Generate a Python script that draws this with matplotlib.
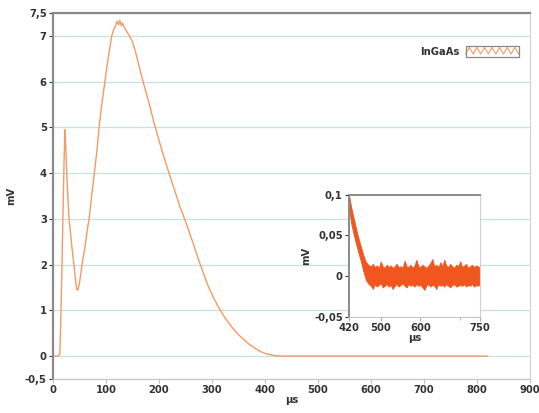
import numpy as np
import matplotlib
matplotlib.use("Agg")
import matplotlib.pyplot as plt
from matplotlib.legend_handler import HandlerBase
from matplotlib.lines import Line2D
from matplotlib.patches import Rectangle

# main trace (µs, mV)
t_main = [0, 10, 13, 15, 17, 19, 21, 22.5, 24, 26, 28, 30, 33, 36, 40, 43, 45, 47, 50,
          53, 56, 60, 64, 68, 73, 78, 83, 87, 92, 98, 102, 106, 111, 115, 118, 121,
          124, 126, 129, 131, 134, 137, 140, 144, 149, 155, 160, 165, 170, 176, 182,
          188, 193, 200, 206, 212, 219, 226, 233, 240, 250, 258, 265, 272, 278, 286,
          294, 302, 310, 321, 330, 340, 350, 360, 370, 380, 390, 400, 410, 420, 430,
          440, 460, 500, 550, 600, 650, 700, 750, 800, 820]
v_main = [0, 0, 0.05, 0.9, 2.0, 3.2, 4.3, 4.95, 4.6, 4.0, 3.5, 3.05, 2.7, 2.35, 1.95,
          1.6, 1.45, 1.45, 1.6, 1.85, 2.1, 2.35, 2.7, 3.0, 3.5, 4.0, 4.5, 5.0, 5.5, 6.0,
          6.35, 6.65, 7.0, 7.15, 7.22, 7.32, 7.24, 7.34, 7.22, 7.28, 7.2, 7.14, 7.08,
          7.0, 6.9, 6.68, 6.45, 6.22, 6.0, 5.75, 5.5, 5.22, 5.0, 4.72, 4.48, 4.25, 4.0,
          3.75, 3.5, 3.25, 2.95, 2.68, 2.45, 2.2, 2.0, 1.74, 1.5, 1.3, 1.12, 0.9, 0.75,
          0.6, 0.47, 0.36, 0.26, 0.18, 0.11, 0.06, 0.03, 0.01, 0.0, 0.0, 0.0, 0.0, 0.0,
          0.0, 0.0, 0.0, 0.0, 0.0, 0.0]

# inset: envelope of the noisy tail (µs, mV)
t_ins = [420, 425, 430, 437, 443, 450, 456, 462, 468, 475, 480, 485, 490, 495, 500,
         505, 510, 515, 520, 525, 530, 535, 540, 545, 550, 555, 560, 565, 570, 575,
         580, 585, 590, 595, 600, 605, 610, 615, 620, 625, 630, 635, 640, 645, 650,
         655, 660, 665, 670, 675, 680, 685, 690, 695, 700, 705, 710, 715, 720, 725,
         730, 735, 740, 745, 750]
v_hi = [0.1, 0.086, 0.075, 0.06, 0.048, 0.036, 0.026, 0.018, 0.014, 0.012, 0.015,
        0.011, 0.013, 0.01, 0.018, 0.012, 0.01, 0.014, 0.011, 0.013, 0.01, 0.012,
        0.015, 0.011, 0.012, 0.01, 0.019, 0.012, 0.011, 0.014, 0.01, 0.013, 0.02,
        0.012, 0.011, 0.014, 0.012, 0.01, 0.013, 0.016, 0.021, 0.012, 0.014, 0.011,
        0.017, 0.012, 0.02, 0.013, 0.011, 0.015, 0.012, 0.01, 0.014, 0.012, 0.018,
        0.011, 0.013, 0.015, 0.01, 0.012, 0.014, 0.011, 0.013, 0.012, 0.01]
v_lo = [0.085, 0.066, 0.055, 0.041, 0.03, 0.018, 0.006, -0.004, -0.009, -0.012,
        -0.016, -0.01, -0.013, -0.011, -0.009, -0.014, -0.012, -0.01, -0.013, -0.011,
        -0.016, -0.012, -0.01, -0.013, -0.011, -0.009, -0.012, -0.014, -0.01, -0.012,
        -0.011, -0.013, -0.01, -0.012, -0.011, -0.014, -0.017, -0.012, -0.01, -0.013,
        -0.011, -0.012, -0.016, -0.01, -0.012, -0.011, -0.013, -0.01, -0.012, -0.014,
        -0.011, -0.01, -0.013, -0.012, -0.011, -0.012, -0.01, -0.013, -0.011, -0.012,
        -0.01, -0.013, -0.011, -0.012, -0.01]

main_yticks = [-0.5, 0, 1, 2, 3, 4, 5, 6, 7, 7.5]
main_xticks = [0, 100, 200, 300, 400, 500, 600, 700, 800, 900]
ins_xticks = [420, 500, 600, 750]
ins_yticks = [-0.05, 0, 0.05, 0.1]

LIGHT = "#f39a66"
DARK = "#f0561e"
TXT = "#333333"


def comma(v):
    s = ("%g" % v).replace(".", ",")
    return s


class ZigZagHandler(HandlerBase):
    def create_artists(self, legend, orig, xd, yd, w, h, fontsize, trans):
        n = 15
        xs = np.linspace(0, w, n) - xd
        ys = np.where(np.arange(n) % 2, h * 0.85, h * 0.25) - yd
        zz = Line2D(xs, ys, color=LIGHT, lw=0.8, transform=trans)
        box = Rectangle((-xd, -yd), w, h, fill=False, ec="#888888", lw=0.9,
                        transform=trans)
        return [zz, box]


plt.rcParams["font.family"] = "DejaVu Sans"
fig = plt.figure(figsize=(5.39, 4.13), dpi=100)
ax = fig.add_axes([0.0983, 0.0823, 0.8850, 0.8862])

line, = ax.plot(t_main, v_main, color=LIGHT, lw=1.0, label="InGaAs")
ax.set_xlim(0, 900)
ax.set_ylim(-0.5, 7.5)
ax.set_xticks(main_xticks)
ax.set_yticks(main_yticks)
ax.set_yticklabels([comma(v) for v in main_yticks])
ax.grid(axis="y", color="#c6e2dd", lw=0.9)
ax.set_axisbelow(True)
ax.tick_params(labelsize=7.2, colors=TXT, length=3, width=0.8, pad=1.5)
for lab in ax.get_xticklabels() + ax.get_yticklabels():
    lab.set_fontweight("bold")
ax.tick_params(axis="x", colors="#bbbbbb", labelcolor=TXT)
ax.spines["left"].set_color("#8a8a8a")
ax.spines["left"].set_linewidth(1.6)
ax.spines["top"].set_color("#8a8a8a")
ax.spines["top"].set_linewidth(1.6)
ax.spines["bottom"].set_color("#c4c4c4")
ax.spines["right"].set_color("#d0d0d0")
ax.set_xlabel("µs", fontsize=7.2, fontweight="bold", color=TXT, labelpad=0)
ax.set_ylabel("mV", fontsize=7.2, fontweight="bold", color=TXT, labelpad=6)

leg = ax.legend(handles=[line], handler_map={line: ZigZagHandler()},
                loc="upper right", bbox_to_anchor=(0.995, 0.935), frameon=False,
                markerfirst=False, handlelength=5.3, handleheight=1.3,
                handletextpad=0.6, prop={"size": 7.2, "weight": "bold"})
for tx in leg.get_texts():
    tx.set_color(TXT)

# inset
ins = fig.add_axes([0.6475, 0.2335, 0.2430, 0.2945])
ins.fill_between(t_ins, v_lo, v_hi, color=DARK, lw=0.6, edgecolor=DARK)
ins.set_xlim(420, 750)
ins.set_ylim(-0.05, 0.1)
ins.set_xticks(ins_xticks)
ins.set_xticks([700], minor=True)
ins.set_yticks(ins_yticks)
ins.set_yticklabels([comma(v) for v in ins_yticks])
ins.tick_params(labelsize=7.2, colors=TXT, length=3, width=0.8, pad=1.5)
ins.tick_params(axis="x", which="both", colors="#aaaaaa", labelcolor=TXT)
for lab in ins.get_xticklabels() + ins.get_yticklabels():
    lab.set_fontweight("bold")
ins.spines["left"].set_color("#8a8a8a")
ins.spines["left"].set_linewidth(1.4)
ins.spines["top"].set_color("#8a8a8a")
ins.spines["top"].set_linewidth(1.4)
ins.spines["bottom"].set_color("#c4c4c4")
ins.spines["right"].set_color("#d0d0d0")
ins.set_xlabel("µs", fontsize=7.2, fontweight="bold", color=TXT, labelpad=0)
ins.set_ylabel("mV", fontsize=7.2, fontweight="bold", color=TXT, labelpad=2)

fig.savefig("out.png", dpi=100)
